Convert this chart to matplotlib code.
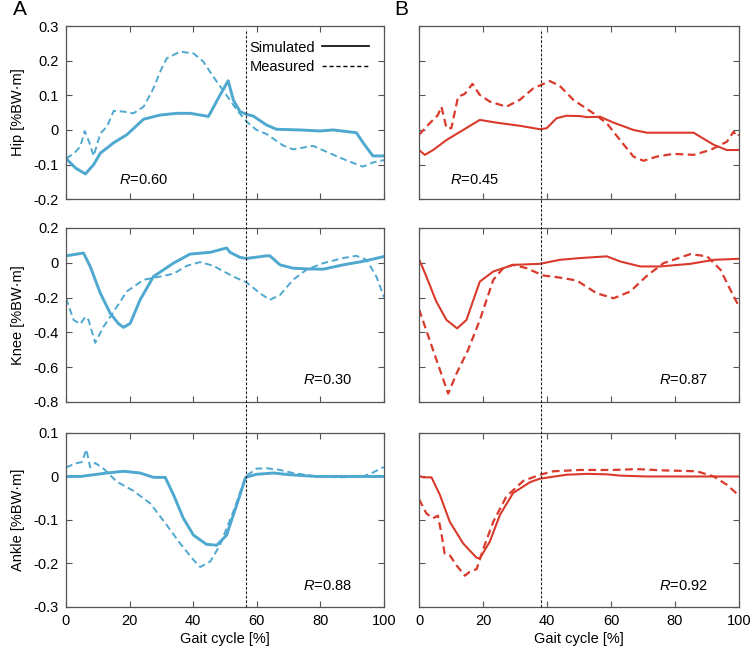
import matplotlib
matplotlib.use("Agg")
import matplotlib.pyplot as plt
import matplotlib.transforms as mtransforms
from matplotlib.lines import Line2D

plt.rcParams['font.family'] = ['Liberation Sans', 'DejaVu Sans']
plt.rcParams['font.size'] = 10.5
plt.rcParams['axes.unicode_minus'] = False
plt.rcParams['mathtext.fontset'] = 'custom'
plt.rcParams['mathtext.rm'] = 'Liberation Sans'
plt.rcParams['mathtext.it'] = 'Liberation Sans:italic'

BLUE = '#4ea8d0'
RED = '#d93a2b'

# ---- data (gait cycle %, moment %BW*m) ----
# A: hip
hipA_sim_x = [0, 3, 6.1, 8.7, 10.8, 15, 19.1, 24.4, 29.6, 34.8, 39, 44.8, 48.4, 51, 52.6, 54.7,
              56.8, 58.9, 63.1, 66.2, 73.5, 79.8, 84, 91.3, 93.9, 96.5, 100]
hipA_sim_y = [-0.082, -0.11, -0.127, -0.10, -0.067, -0.037, -0.014, 0.031, 0.043, 0.048, 0.048,
              0.039, 0.10, 0.142, 0.087, 0.053, 0.045, 0.04, 0.014, 0.002, 0.0, -0.003, 0.0,
              -0.008, -0.043, -0.075, -0.075]
hipA_mea_x = [0, 2.4, 4.5, 5.9, 7.4, 8.7, 10.8, 12.9, 15, 18.1, 21.2, 24.4, 27.5, 29.6, 31.7,
              35.9, 40.1, 43.2, 46.3, 50.5, 53.7, 56.8, 59.9, 63.1, 68.3, 71.4, 77.7, 81.9,
              88.2, 93.4, 96.5, 100]
hipA_mea_y = [-0.082, -0.069, -0.048, -0.003, -0.038, -0.075, -0.010, 0.010, 0.055, 0.053,
              0.048, 0.067, 0.12, 0.168, 0.207, 0.226, 0.221, 0.197, 0.154, 0.10, 0.058, 0.024,
              0.0, -0.012, -0.045, -0.056, -0.046, -0.063, -0.088, -0.106, -0.094, -0.087]

# A: knee
kneeA_sim_x = [0, 5.5, 7.6, 10.8, 13.9, 16.5, 18.1, 20.2, 23.3, 27.5, 33.8, 39, 45.3, 50.5,
               51.6, 54.7, 56.8, 63.1, 64.1, 67.3, 71.4, 75.6, 80.9, 87.1, 93.4, 100]
kneeA_sim_y = [0.04, 0.056, -0.021, -0.175, -0.29, -0.35, -0.371, -0.348, -0.213, -0.079,
               -0.002, 0.05, 0.06, 0.085, 0.06, 0.031, 0.025, 0.04, 0.04, -0.012, -0.031,
               -0.035, -0.037, -0.012, 0.008, 0.036]
kneeA_mea_x = [0, 2.4, 4.5, 6.1, 7.1, 9.2, 11.8, 15, 19.1, 24.4, 29.6, 33.8, 38, 42.2, 46.3,
               52.6, 56.8, 61, 64.1, 67.3, 71.4, 75.6, 80.9, 87.1, 91.3, 94.5, 97.6, 100]
kneeA_mea_y = [-0.204, -0.329, -0.352, -0.31, -0.329, -0.46, -0.367, -0.281, -0.165, -0.098,
               -0.079, -0.063, -0.017, 0.004, -0.017, -0.079, -0.113, -0.175, -0.213, -0.185,
               -0.098, -0.04, -0.002, 0.027, 0.04, 0.017, -0.079, -0.198]

# A: ankle
ankA_sim_x = [0, 4.5, 8.7, 12.9, 18.1, 23.3, 27.5, 31.2, 33.8, 36.9, 40.1, 44.2, 47.4, 50.5,
              53.7, 56.5, 59.9, 65.2, 70.4, 78.8, 100]
ankA_sim_y = [0.0, 0.0, 0.004, 0.008, 0.012, 0.008, -0.002, -0.002, -0.042, -0.096, -0.135,
              -0.156, -0.158, -0.135, -0.065, -0.002, 0.005, 0.008, 0.004, 0.0, 0.0]
ankA_mea_x = [0, 3.5, 5, 6.4, 7.6, 9.2, 11.8, 16, 21.2, 26.5, 31.7, 35.9, 40.1, 42.2, 45.3,
              48.4, 52.6, 56.5, 59.9, 63.1, 67.3, 71.4, 78.8, 86.1, 93.4, 96.5, 100]
ankA_mea_y = [0.021, 0.031, 0.033, 0.062, 0.021, 0.031, 0.018, -0.012, -0.033, -0.062, -0.112,
              -0.154, -0.192, -0.208, -0.196, -0.158, -0.081, 0.0, 0.018, 0.019, 0.015, 0.008,
              0.0, -0.002, 0.0, 0.009, 0.022]

# B: hip
hipB_sim_x = [0, 1.8, 4.4, 8.6, 13.8, 19, 24.2, 31.5, 37.8, 39.9, 43, 46.1, 50.3, 52.4, 56.6,
              60.8, 67, 71.2, 79.5, 85.8, 92.1, 96.2, 100]
hipB_sim_y = [-0.058, -0.072, -0.058, -0.029, 0.0, 0.029, 0.021, 0.012, 0.002, 0.005, 0.034,
              0.041, 0.04, 0.037, 0.038, 0.021, 0.0, -0.008, -0.008, -0.008, -0.043, -0.058,
              -0.058]
hipB_mea_x = [0, 3.3, 5.9, 7, 8.6, 10.1, 12.2, 14.3, 16.7, 19, 22.1, 27.3, 31.5, 35.7, 40.9,
              44, 48.2, 54.5, 58.7, 62.8, 67, 70.1, 74.3, 79.5, 85.8, 91, 96.2, 98.3, 99.4, 100]
hipB_mea_y = [-0.014, 0.019, 0.043, 0.067, 0.005, 0.005, 0.096, 0.104, 0.133, 0.101, 0.082,
              0.067, 0.087, 0.12, 0.141, 0.127, 0.087, 0.048, 0.019, -0.029, -0.077, -0.089,
              -0.077, -0.069, -0.072, -0.058, -0.034, -0.005, -0.019, -0.014]

# B: knee
kneeB_sim_x = [0, 2.3, 5.4, 8.6, 11.9, 14.8, 19, 23.2, 29.4, 37.8, 44, 50.3, 58.7, 62.8, 69.1,
               75.4, 84.8, 92.1, 100]
kneeB_sim_y = [0.021, -0.079, -0.223, -0.329, -0.377, -0.329, -0.108, -0.05, -0.012, -0.006,
               0.017, 0.027, 0.037, 0.008, -0.021, -0.021, -0.006, 0.017, 0.023]
kneeB_mea_x = [0, 4.4, 9.1, 11.7, 15.3, 19, 23.2, 26.3, 29.4, 33.6, 38.8, 44, 49.3, 55.5, 60.8,
               66, 71.2, 76.4, 84.8, 90, 94.2, 97.3, 100]
kneeB_mea_y = [-0.267, -0.502, -0.752, -0.637, -0.502, -0.329, -0.098, -0.031, -0.012, -0.031,
               -0.073, -0.085, -0.102, -0.175, -0.204, -0.165, -0.075, -0.002, 0.05, 0.037,
               -0.04, -0.156, -0.252]

# B: ankle
ankB_sim_x = [0, 1.3, 3.9, 6.5, 9.6, 13.8, 18, 19, 22.1, 25.3, 29.4, 34.7, 37.8, 46.1, 52.4,
              58.7, 62.8, 71.2, 100]
ankB_sim_y = [0.0015, -0.002, -0.002, -0.042, -0.104, -0.154, -0.187, -0.188, -0.15, -0.088,
              -0.038, -0.013, -0.005, 0.004, 0.006, 0.005, 0.002, 0.0, 0.0]
ankB_mea_x = [0, 2.3, 4.4, 5.9, 7, 8, 9.6, 11.7, 14.3, 15.9, 18, 20, 23.2, 27.3, 32.6, 37.8,
              42, 50.3, 60.8, 68, 76.4, 86.8, 92.1, 96.2, 100]
ankB_mea_y = [-0.052, -0.085, -0.096, -0.09, -0.131, -0.177, -0.181, -0.204, -0.228, -0.219,
              -0.213, -0.168, -0.104, -0.046, -0.01, 0.004, 0.012, 0.015, 0.015, 0.017, 0.014,
              0.012, 0.0, -0.019, -0.044]

row_labels = ['Hip [%BW\u00b7m]', 'Knee [%BW\u00b7m]', 'Ankle [%BW\u00b7m]']
row_ylims = [(-0.2, 0.3), (-0.8, 0.2), (-0.3, 0.1)]
row_yticks = [[-0.2, -0.1, 0, 0.1, 0.2, 0.3],
              [-0.8, -0.6, -0.4, -0.2, 0, 0.2],
              [-0.3, -0.2, -0.1, 0, 0.1]]
r_values_A = ['0.60', '0.30', '0.88']
r_values_B = ['0.45', '0.87', '0.92']
toe_off = [56.5, 38.0]  # vertical dashed line per column

colA = [(hipA_sim_x, hipA_sim_y, hipA_mea_x, hipA_mea_y),
        (kneeA_sim_x, kneeA_sim_y, kneeA_mea_x, kneeA_mea_y),
        (ankA_sim_x, ankA_sim_y, ankA_mea_x, ankA_mea_y)]
colB = [(hipB_sim_x, hipB_sim_y, hipB_mea_x, hipB_mea_y),
        (kneeB_sim_x, kneeB_sim_y, kneeB_mea_x, kneeB_mea_y),
        (ankB_sim_x, ankB_sim_y, ankB_mea_x, ankB_mea_y)]


def fmt_tick(v):
    if abs(v) < 1e-9:
        return '0'
    return ('%.1f' % v)


fig = plt.figure(figsize=(7.5, 6.51), dpi=100)
col_x = [(0.088, 0.424), (0.5587, 0.4267)]
row_y = [(0.694, 0.266), (0.3825, 0.2673), (0.0676, 0.2673)]

axes = [[None, None], [None, None], [None, None]]
for c in range(2):
    for r in range(3):
        ax = fig.add_axes([col_x[c][0], row_y[r][0], col_x[c][1], row_y[r][1]])
        axes[r][c] = ax
        sx, sy, mx, my = (colA if c == 0 else colB)[r]
        if c == 0:
            ax.plot(sx, sy, color=BLUE, lw=2.1, solid_joinstyle='round')
            ax.plot(mx, my, color=BLUE, lw=1.4, ls=(0, (3.5, 2)))
        else:
            ax.plot(sx, sy, color=RED, lw=1.5, solid_joinstyle='round')
            ax.plot(mx, my, color=RED, lw=1.6, ls=(0, (3.5, 2)))
        ax.set_xlim(0, 100)
        ax.set_ylim(*row_ylims[r])
        ax.set_xticks([0, 20, 40, 60, 80, 100])
        ax.set_yticks(row_yticks[r])
        ax.tick_params(direction='in', top=True, right=True, length=4,
                       color='#555555', labelsize=10.5, pad=5)
        for sp in ax.spines.values():
            sp.set_color('#555555')
            sp.set_linewidth(0.9)
        if c == 0:
            ax.set_yticklabels([fmt_tick(v) for v in row_yticks[r]])
            ax.set_ylabel(row_labels[r], fontsize=10.5, labelpad=6)
        else:
            ax.set_yticklabels([])
        if r == 2:
            ax.set_xticklabels(['0', '20', '40', '60', '80', '100'])
            ax.set_xlabel('Gait cycle [%]', fontsize=10.5, labelpad=3)
        else:
            ax.set_xticklabels([])

# R labels
rpos_A = [(0.167, 0.11), (0.745, 0.125), (0.745, 0.12)]
rpos_B = [(0.097, 0.11), (0.75, 0.125), (0.75, 0.12)]
for r in range(3):
    axes[r][0].text(rpos_A[r][0], rpos_A[r][1], '$R$=' + r_values_A[r],
                    transform=axes[r][0].transAxes, ha='left', va='center', fontsize=10.5)
    axes[r][1].text(rpos_B[r][0], rpos_B[r][1], '$R$=' + r_values_B[r],
                    transform=axes[r][1].transAxes, ha='left', va='center', fontsize=10.5)

# toe-off lines spanning all three rows
for c in range(2):
    trans = mtransforms.blended_transform_factory(axes[0][c].transData, fig.transFigure)
    fig.add_artist(Line2D([toe_off[c], toe_off[c]], [0.0676, 0.955], transform=trans,
                          color='#222222', lw=0.8, ls=(0, (2.5, 1.5))))

# legend
handles = [Line2D([], [], color='black', lw=1.2),
           Line2D([], [], color='black', lw=1.0, ls=(0, (3, 2)))]
axes[0][0].legend(handles, ['Simulated', 'Measured'], loc='upper right',
                  bbox_to_anchor=(0.985, 0.975), frameon=False, markerfirst=False,
                  handlelength=3.2, handletextpad=0.5, labelspacing=0.35, fontsize=10.5,
                  borderaxespad=0.3)

fig.text(0.017, 0.985, 'A', fontsize=15, ha='left', va='center')
fig.text(0.525, 0.985, 'B', fontsize=15, ha='left', va='center')

fig.savefig('out.png', dpi=100)
